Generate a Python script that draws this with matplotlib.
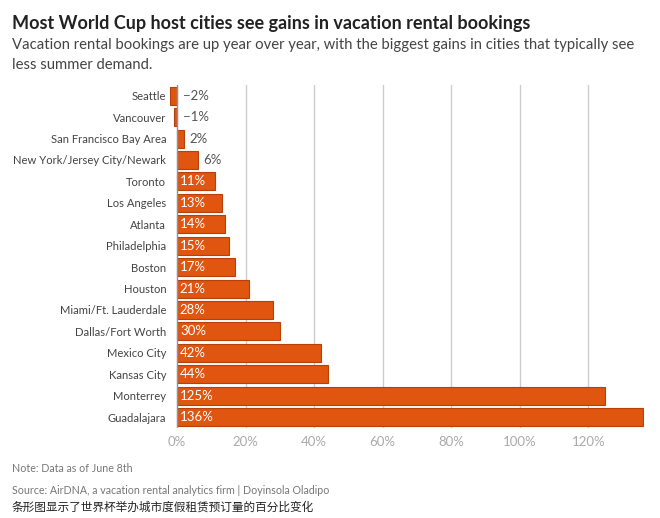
import numpy as np
import matplotlib.pyplot as plt

cities = ['Seattle', 'Vancouver', 'San Francisco Bay Area', 'New York/Jersey City/Newark',
          'Toronto', 'Los Angeles', 'Atlanta', 'Philadelphia', 'Boston', 'Houston',
          'Miami/Ft. Lauderdale', 'Dallas/Fort Worth', 'Mexico City', 'Kansas City',
          'Monterrey', 'Guadalajara']
change = [-2, -1, 2, 6, 11, 13, 14, 15, 17, 21, 28, 30, 42, 44, 125, 136]
ticks = [0, 20, 40, 60, 80, 100, 120]

plt.rcParams['font.family'] = ['Lato', 'Noto Sans CJK SC', 'DejaVu Sans']

fig = plt.figure(figsize=(6.6, 5.18), dpi=100)
ax = fig.add_axes([0.257, 0.174, 0.719, 0.662])

y = np.arange(len(cities))
ax.barh(y, change, height=0.84, color='#e0550f', edgecolor='#b8400a', linewidth=0.8, zorder=3)
ax.set_ylim(len(cities) - 0.5, -0.5)
ax.set_xlim(-2.2, 136.3)

for i, v in enumerate(change):
    txt = f'{v}%' if v >= 0 else f'\u2212{abs(v)}%'
    if v >= 10:
        ax.text(0.8, i, txt, va='center', ha='left', color='white', fontsize=9.5, zorder=4)
    else:
        ax.text(max(v, 0) + 1.6, i, txt, va='center', ha='left', color='#555555', fontsize=9.5, zorder=4)

ax.set_yticks(y)
ax.set_yticklabels(cities, fontsize=8.1, color='#444444')
ax.set_xticks(ticks)
ax.set_xticklabels([f'{t}%' for t in ticks], fontsize=9.5, color='#aaaaaa')
ax.tick_params(length=0, pad=6)
ax.tick_params(axis='y', pad=2.5)
for t in ticks[1:]:
    ax.axvline(t, color='#cccccc', linewidth=1, zorder=1)
ax.axvline(0, color='#7a99b0', linewidth=1, zorder=5)
for s in ax.spines.values():
    s.set_visible(False)

fig.text(0.018, 0.944, 'Most World Cup host cities see gains in vacation rental bookings',
         fontsize=13, fontweight='bold', color='#222222')
fig.text(0.018, 0.905, 'Vacation rental bookings are up year over year, with the biggest gains in cities that typically see',
         fontsize=10.7, color='#444444')
fig.text(0.018, 0.866, 'less summer demand.', fontsize=10.7, color='#444444')

fig.text(0.018, 0.088, 'Note: Data as of June 8th', fontsize=7.7, color='#777777')
fig.text(0.018, 0.047, 'Source: AirDNA, a vacation rental analytics firm | Doyinsola Oladipo', fontsize=7.7, color='#777777')
fig.text(0.018, 0.014, '条形图显示了世界杯举办城市度假租赁预订量的百分比变化', fontsize=8.4, color='#222222')

fig.savefig('out.png', dpi=100)
